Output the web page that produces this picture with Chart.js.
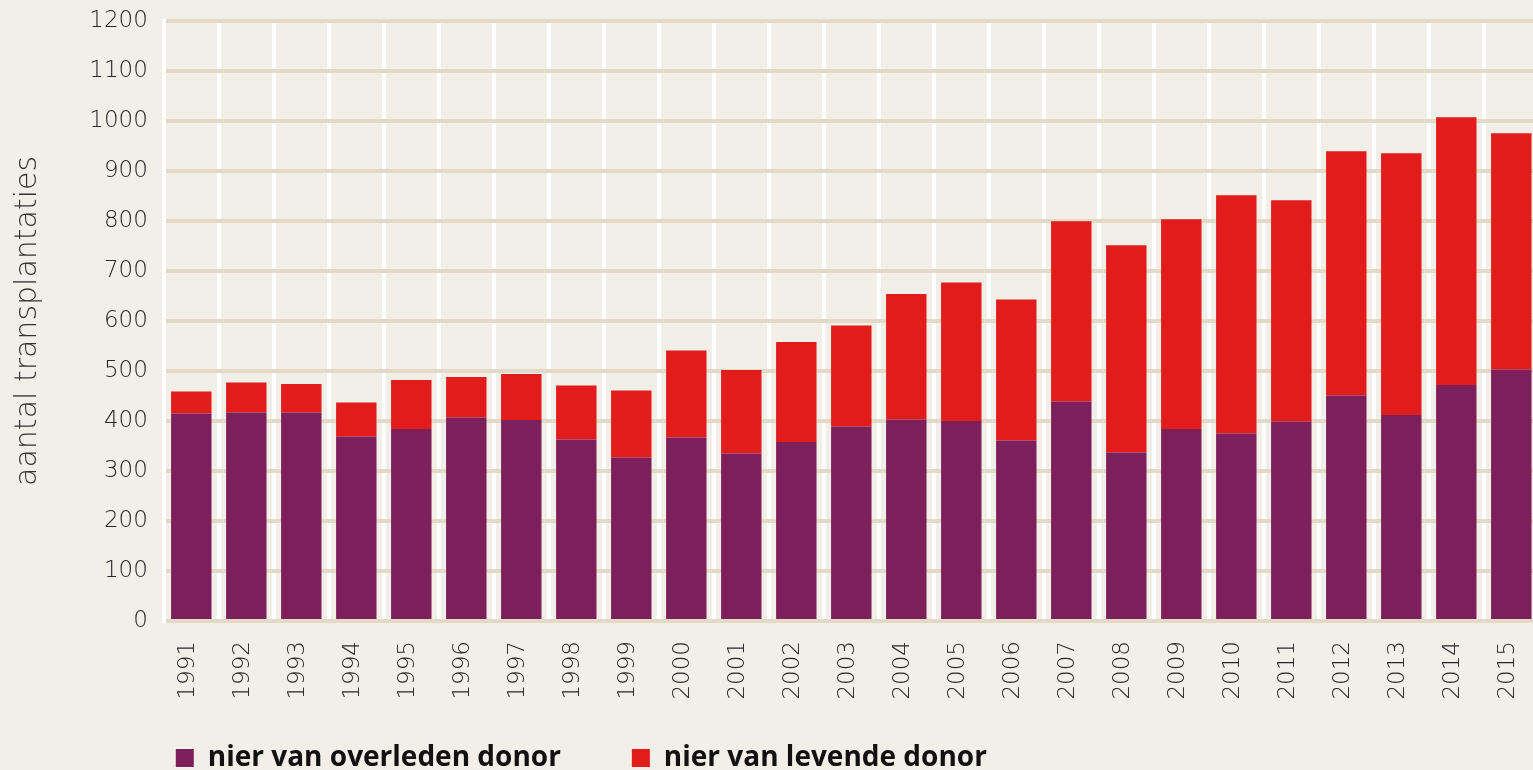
<!DOCTYPE html>
<html>
<head>
<meta charset="utf-8">
<script src="https://cdn.jsdelivr.net/npm/chart.js@4"></script>
<style>
  html, body { margin: 0; padding: 0; background: #f2efe8; overflow: hidden; }
  #wrap { position: relative; width: 1540px; height: 770px; }
</style>
</head>
<body>
<div id="wrap"><canvas id="c"></canvas></div>
<script>
// ---- data ----
const years = ['1991','1992','1993','1994','1995','1996','1997','1998','1999','2000',
               '2001','2002','2003','2004','2005','2006','2007','2008','2009','2010',
               '2011','2012','2013','2014','2015'];
const deceasedDonor = [415, 417, 417, 369, 384, 407, 402, 363, 327, 367,
                       335, 358, 389, 403, 400, 361, 439, 337, 384, 375,
                       399, 451, 412, 472, 503];
const livingDonor   = [ 44,  60,  57,  68,  98,  81,  92, 108, 134, 174,
                       167, 200, 202, 251, 277, 282, 360, 414, 419, 476,
                       442, 488, 523, 535, 472];
const seriesNames = ['nier van overleden donor', 'nier van levende donor'];
const yAxisTitle = 'aantal transplantaties';
const yMin = 0, yMax = 1200, yStep = 100;

// ---- styling ----
const PURPLE = '#7d1f5b';
const RED = '#e21b1b';
const GRID = '#e2d9c7';
const TEXT = '#262626';
const LIGHT_FONT = "'DejaVu Sans', 'Open Sans', sans-serif";
const LEGEND_PAD = 71;
const LEGEND_FONT = 28;
const LEGEND_CENTER_Y = 758;
const X_AXIS_HEIGHT = 100;

// place the legend row just under the rotated year labels
const legendPlace = {
  id: 'legendPlace',
  afterLayout(chart) {
    const lg = chart.legend;
    if (!lg) return;
    const h = lg.height;
    lg.left = chart.chartArea.left + 12 - LEGEND_PAD;
    lg.top = LEGEND_CENTER_Y - LEGEND_FONT / 2 - LEGEND_PAD;
    lg.bottom = lg.top + h;
  }
};

new Chart(document.getElementById('c'), {
  type: 'bar',
  data: {
    labels: years,
    datasets: [
      { label: seriesNames[0], data: deceasedDonor, backgroundColor: PURPLE,
        barPercentage: 0.735, categoryPercentage: 1 },
      { label: seriesNames[1], data: livingDonor, backgroundColor: RED,
        barPercentage: 0.735, categoryPercentage: 1 }
    ]
  },
  options: {
    responsive: true,
    maintainAspectRatio: false,
    animation: false,
    events: [],
    layout: { padding: { top: 20.8, right: 1.2, bottom: 770 - 621 - X_AXIS_HEIGHT - (LEGEND_FONT + LEGEND_PAD + 10), left: 0 } },
    scales: {
      x: {
        stacked: true,
        offset: true,
        grid: { color: '#ffffff', lineWidth: 4, drawTicks: false, offset: true },
        border: { display: false },
        ticks: {
          minRotation: 90, maxRotation: 90, padding: 20, labelOffset: -3,
          color: TEXT, font: { family: LIGHT_FONT, size: 23, weight: 200 }
        },
        afterFit(scale) {
          scale.height = X_AXIS_HEIGHT;
          scale.paddingLeft = 0;
          scale.paddingRight = 0;
        }
      },
      y: {
        stacked: true,
        min: yMin, max: yMax,
        grid: { color: GRID, lineWidth: 4, drawTicks: false },
        border: { display: true, color: '#ffffff', width: 4 },
        ticks: {
          stepSize: yStep, padding: 16, color: TEXT,
          font: { family: LIGHT_FONT, size: 23, weight: 200 },
          callback: (v) => String(v)
        },
        title: {
          display: true, text: yAxisTitle, color: '#333333',
          font: { family: LIGHT_FONT, size: 30, weight: 200 },
          padding: { top: 10, bottom: 0 }
        },
        afterFit(scale) {
          scale.width = 163.8;
          scale.paddingTop = 0;
          scale.paddingBottom = 0;
        }
      }
    },
    plugins: {
      legend: {
        position: 'bottom',
        align: 'start',
        fullSize: false,
        labels: {
          boxWidth: 18, boxHeight: 18, padding: LEGEND_PAD,
          color: '#111111',
          font: { family: 'Open Sans', size: LEGEND_FONT, weight: 700 }
        }
      },
      tooltip: { enabled: false }
    }
  },
  plugins: [legendPlace]
});
</script>
</body>
</html>
